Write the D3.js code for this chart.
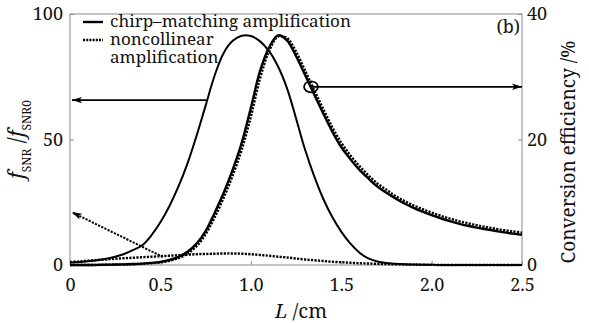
<!DOCTYPE html>
<html><head><meta charset="utf-8">
<script src="https://cdn.jsdelivr.net/npm/d3@7"></script>
<style>html,body{margin:0;padding:0;background:#fff;} text{font-family:"Noto Serif","DejaVu Serif",serif;fill:#111;}</style>
</head><body><svg id="c" width="589" height="323"></svg>
<script>
// ---- data ----
const Lgrid = d3.range(0, 2.5001, 0.05).map(v => +v.toFixed(2));
const snrChirp = [1.0,1.2,1.5,1.9,2.5,3.3,4.4,6.0,7.9,11.8,17.0,23.5,31.3,40.5,51.5,63.5,75.5,84.5,89.3,91.3,91.2,89.2,85.3,79.2,70.5,58.5,46.0,35.5,26.5,19.2,13.3,8.6,5.0,2.6,1.4,0.8,0.5,0.3,0.2,0.1,0.1,0,0,0,0,0,0,0,0,0,0];
const snrNon = [1.2,1.4,1.7,2.0,2.2,2.5,2.7,2.9,3.1,3.3,3.5,3.7,3.9,4.1,4.3,4.4,4.5,4.6,4.6,4.5,4.3,4.0,3.7,3.3,3.0,2.6,2.2,1.9,1.6,1.3,1.1,0.9,0.7,0.6,0.45,0.35,0.25,0.2,0.15,0.1,0.05,0,0,0,0,0,0,0,0,0,0];
const effChirp = [0,0,0,0.02,0.04,0.07,0.1,0.15,0.22,0.33,0.5,0.8,1.3,2.1,3.4,5.4,8.3,11.5,15.2,19.5,25.0,30.8,34.6,36.6,35.8,33.3,30.3,27.2,24.2,21.3,18.8,16.9,15.2,13.8,12.5,11.5,10.6,9.8,9.1,8.5,7.95,7.45,7.0,6.6,6.25,5.95,5.7,5.45,5.2,5.0,4.8];
const effNon = [0,0,0,0.01,0.03,0.05,0.08,0.12,0.18,0.28,0.42,0.68,1.1,1.8,3.0,4.9,7.6,10.7,14.3,18.4,23.6,29.6,34.0,36.4,36.2,34.0,31.0,27.9,24.9,22.0,19.5,17.5,15.8,14.3,13.0,12.0,11.0,10.2,9.5,8.9,8.35,7.85,7.4,7.0,6.65,6.35,6.05,5.8,5.55,5.35,5.15];
const xTicks = [0, 0.5, 1.0, 1.5, 2.0, 2.5];
const xTickLabels = ["0","0.5","1.0","1.5","2.0","2.5"];
const yLeftTicks = [0, 50, 100];
const yRightTicks = [0, 20, 40];
const legendLabels = ["chirp\u2013matching amplification", "noncollinear", "amplification"];
// annotation anchors (data units)
const arrowLeft = {from:[0.758, 65.7], to:[0.0, 65.7]};      // left axis
const arrowRight = {from:[1.333, 28.4], to:[2.5, 28.4]};     // right axis
const arrowDashed = {from:[0.514, 3.2], to:[0.0, 21]};       // left axis

// ---- layout ----
const svg = d3.select("#c");
const m = {l:70, r:67, t:14, b:58};
const W = 589, H = 323;
const x = d3.scaleLinear().domain([0,2.5]).range([m.l, W-m.r]);
const yL = d3.scaleLinear().domain([0,100]).range([H-m.b, m.t]);
const yR = d3.scaleLinear().domain([0,40]).range([H-m.b, m.t]);
const frame = "#8a8a8a";
const FONT = '"Noto Serif","DejaVu Serif",serif';

function fitWidth(sel, target){
  const n = sel.node(); const fs = parseFloat(sel.attr("font-size"));
  const w = n.getComputedTextLength();
  if (w > 0) sel.attr("font-size", (fs*target/w).toFixed(2));
}

// frame
svg.append("rect").attr("x", m.l).attr("y", m.t).attr("width", x(2.5)-m.l).attr("height", (H-m.b)-m.t)
  .attr("fill","none").attr("stroke", frame).attr("stroke-width",1);

// axes
const gx = svg.append("g").attr("transform", `translate(0,${H-m.b})`)
  .call(d3.axisBottom(x).tickValues(xTicks).tickFormat((d,i)=>xTickLabels[i]).tickSizeInner(-4).tickSizeOuter(0).tickPadding(13));
const gl = svg.append("g").attr("transform", `translate(${m.l},0)`)
  .call(d3.axisLeft(yL).tickValues(yLeftTicks).tickFormat(d3.format("d")).tickSizeInner(-4).tickSizeOuter(0).tickPadding(7));
const gr = svg.append("g").attr("transform", `translate(${x(2.5)},0)`)
  .call(d3.axisRight(yR).tickValues(yRightTicks).tickFormat(d3.format("d")).tickSizeInner(-4).tickSizeOuter(0).tickPadding(5));
[gx,gl,gr].forEach(g=>{
  g.attr("font-family", FONT);
  g.select(".domain").remove();
  g.selectAll(".tick line").attr("stroke", frame);
  g.selectAll(".tick text").attr("font-size", 18).attr("font-family", FONT).attr("fill","#111");
});

// curves
const cv = d3.curveCatmullRom.alpha(0.5);
const lineL = d3.line().x((d,i)=>x(Lgrid[i])).y(d=>yL(d)).curve(cv);
const lineR = d3.line().x((d,i)=>x(Lgrid[i])).y(d=>yR(d)).curve(cv);
svg.append("path").attr("d", lineL(snrChirp)).attr("fill","none").attr("stroke","#000").attr("stroke-width",2);
svg.append("path").attr("d", lineL(snrNon)).attr("fill","none").attr("stroke","#000").attr("stroke-width",2.4).attr("stroke-dasharray","2.2,1.3");
svg.append("path").attr("d", lineR(effChirp)).attr("fill","none").attr("stroke","#000").attr("stroke-width",2.4);
svg.append("path").attr("d", lineR(effNon)).attr("fill","none").attr("stroke","#000").attr("stroke-width",2.4).attr("stroke-dasharray","2.2,1.3");

// arrow markers
const defs = svg.append("defs");
defs.append("marker").attr("id","ah").attr("markerUnits","userSpaceOnUse")
  .attr("viewBox","0 -4 10 8").attr("refX",10).attr("refY",0).attr("markerWidth",10).attr("markerHeight",8).attr("orient","auto")
  .append("path").attr("d","M0,-3.2L10,0L0,3.2L2.5,0Z").attr("fill","#000");
function arrow(a, ys, dashed){
  svg.append("line").attr("x1", x(a.from[0])).attr("y1", ys(a.from[1]))
    .attr("x2", x(a.to[0])+2).attr("y2", ys(a.to[1]))
    .attr("stroke","#000").attr("stroke-width", dashed?2:1.8)
    .attr("stroke-dasharray", dashed?"2.2,1.3":null)
    .attr("marker-end","url(#ah)");
}
arrow(arrowLeft, yL, false);
arrow(arrowDashed, yL, true);
arrow({from:arrowRight.from, to:[arrowRight.to[0]-0.011, arrowRight.to[1]]}, yR, false);
svg.append("ellipse").attr("cx", x(arrowRight.from[0])).attr("cy", yR(arrowRight.from[1]))
  .attr("rx",7).attr("ry",5.5).attr("fill","none").attr("stroke","#000").attr("stroke-width",1.8);

// legend
const lg = svg.append("g");
lg.append("line").attr("x1",83).attr("x2",103).attr("y1",22).attr("y2",22).attr("stroke","#000").attr("stroke-width",2.4);
lg.append("line").attr("x1",83).attr("x2",103).attr("y1",40).attr("y2",40).attr("stroke","#000").attr("stroke-width",2.4).attr("stroke-dasharray","2,1.2");
const lt = lg.selectAll("text.lg").data(legendLabels).enter().append("text").attr("class","lg")
  .attr("x",110).attr("y",(d,i)=>27+i*18).attr("font-size",17).text(d=>d);
const lt0 = d3.select(lt.nodes()[0]);
fitWidth(lt0, 241);
lt.attr("font-size", lt0.attr("font-size"));

// panel label
svg.append("text").attr("x",520).attr("y",33).attr("text-anchor","end").attr("font-size",18).text("(b)");

// axis titles
const ty = svg.append("text").attr("transform",`translate(24,${(H-m.b+m.t)/2}) rotate(-90)`).attr("text-anchor","middle").attr("font-size",21);
ty.append("tspan").attr("font-style","italic").text("f");
ty.append("tspan").attr("font-size",12).attr("dy",7).text("SNR");
ty.append("tspan").attr("dy",-7).text(" /");
ty.append("tspan").attr("font-style","italic").text("f");
ty.append("tspan").attr("font-size",12).attr("dy",7).text("SNR0");

const tr = svg.append("text").attr("transform",`translate(575,152) rotate(-90)`).attr("text-anchor","middle").attr("font-size",18)
  .text("Conversion efficiency /%");
fitWidth(tr, 223);

const tx = svg.append("text").attr("x",301).attr("y",318).attr("text-anchor","middle").attr("font-size",20);
tx.append("tspan").attr("font-style","italic").text("L");
tx.append("tspan").text(" /cm");
</script></body></html>
